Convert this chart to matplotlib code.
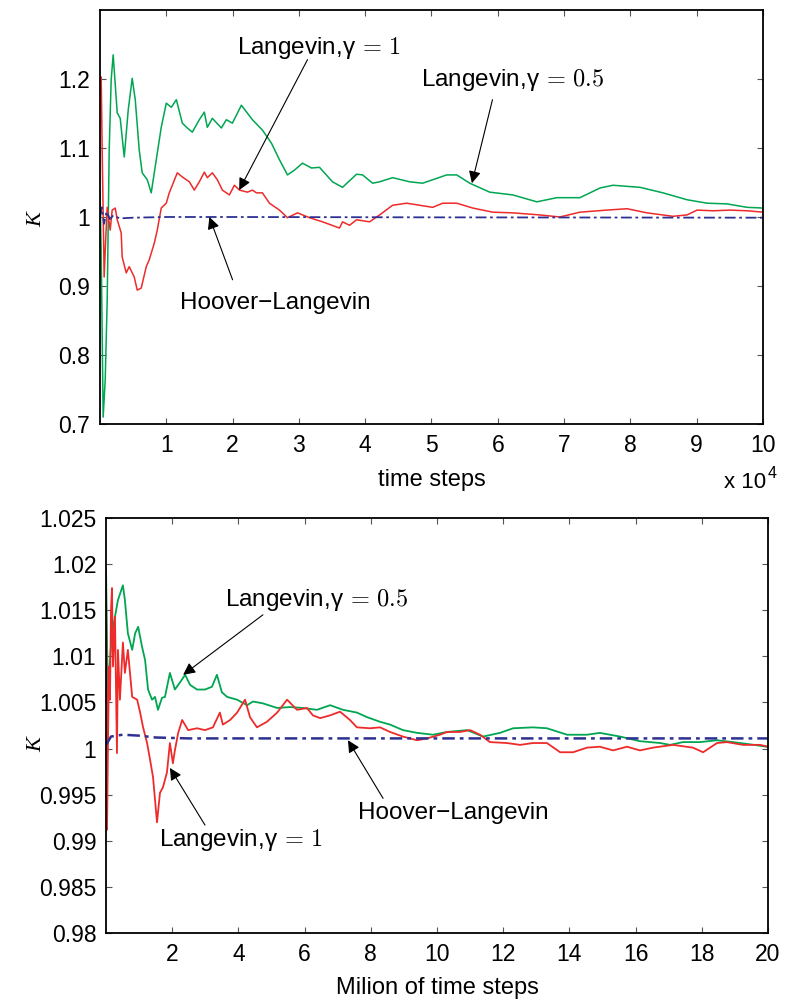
import matplotlib
matplotlib.use('Agg')
import matplotlib.pyplot as plt

plt.rcParams['font.family'] = ['Liberation Sans', 'DejaVu Sans']
plt.rcParams['mathtext.fontset'] = 'cm'

# ---- top panel: K vs time steps (x 1e4)
top_green_x = [0, 0.018, 0.048, 0.079, 0.109, 0.139, 0.169, 0.199, 0.26, 0.305, 0.366, 0.426, 0.486,
               0.532, 0.592, 0.637, 0.713, 0.773, 0.849, 0.924, 1.0, 1.076, 1.152, 1.242, 1.317, 1.393,
               1.498, 1.574, 1.619, 1.695, 1.831, 1.906, 1.997, 2.133, 2.299, 2.45, 2.586, 2.707, 2.828,
               2.934, 3.054, 3.19, 3.311, 3.507, 3.658, 3.87, 3.961, 4.112, 4.218, 4.414, 4.671, 4.867,
               5.018, 5.23, 5.381, 5.577, 5.879, 6.226, 6.589, 6.891, 7.239, 7.541, 7.737, 8.145, 8.492,
               8.855, 9.157, 9.459, 9.761, 10.0]
top_green_y = [1.039, 0.952, 0.71, 0.764, 0.88, 1.097, 1.199, 1.235, 1.151, 1.143, 1.087, 1.155, 1.201,
               1.17, 1.097, 1.064, 1.054, 1.035, 1.083, 1.13, 1.165, 1.159, 1.17, 1.136, 1.129, 1.123,
               1.141, 1.152, 1.13, 1.143, 1.129, 1.141, 1.136, 1.162, 1.141, 1.126, 1.107, 1.083, 1.061,
               1.068, 1.078, 1.071, 1.072, 1.051, 1.043, 1.062, 1.061, 1.049, 1.051, 1.057, 1.051, 1.049,
               1.054, 1.061, 1.061, 1.049, 1.036, 1.032, 1.022, 1.028, 1.028, 1.042, 1.046, 1.043, 1.035,
               1.025, 1.02, 1.019, 1.014, 1.013]

top_red_x = [0, 0.018, 0.033, 0.063, 0.086, 0.109, 0.154, 0.184, 0.23, 0.26, 0.32, 0.335, 0.396, 0.441,
             0.517, 0.562, 0.622, 0.698, 0.743, 0.819, 0.864, 0.924, 1.0, 1.045, 1.091, 1.166, 1.242,
             1.348, 1.423, 1.498, 1.574, 1.619, 1.695, 1.77, 1.846, 1.952, 2.027, 2.103, 2.224, 2.299,
             2.36, 2.45, 2.556, 2.707, 2.828, 2.979, 3.16, 3.356, 3.613, 3.658, 3.764, 3.87, 4.066,
             4.218, 4.414, 4.625, 4.822, 5.018, 5.169, 5.381, 5.622, 5.924, 6.226, 6.634, 6.937, 7.239,
             7.647, 7.949, 8.251, 8.643, 8.855, 9.006, 9.248, 9.505, 9.761, 10.0]
top_red_y = [1.2, 1.203, 1.097, 0.913, 0.967, 1.014, 0.981, 1.01, 1.013, 0.996, 0.977, 0.942, 0.919, 0.928,
             0.913, 0.894, 0.897, 0.928, 0.938, 0.962, 0.981, 1.013, 1.02, 1.035, 1.046, 1.064, 1.058,
             1.051, 1.039, 1.051, 1.065, 1.057, 1.064, 1.054, 1.039, 1.032, 1.046, 1.039, 1.036, 1.039,
             1.035, 1.035, 1.02, 1.01, 0.999, 1.006, 0.999, 0.993, 0.984, 0.993, 0.988, 0.996, 0.993,
             1.003, 1.017, 1.02, 1.017, 1.014, 1.02, 1.02, 1.013, 1.007, 1.006, 1.003, 1.0, 1.007,
             1.01, 1.012, 1.006, 1.001, 1.003, 1.01, 1.009, 1.01, 1.009, 1.007]

top_blue_x = [0, 0.03, 0.06, 0.1, 0.15, 0.2, 0.3, 0.5, 1.0, 2.0, 5.0, 10.0]
top_blue_y = [1.0, 1.014, 0.99, 1.008, 0.997, 1.002, 0.998, 0.999, 1.0, 1.0, 0.9995, 0.999]

# ---- bottom panel: K vs million time steps
bot_green_x = [0, 0.03, 0.06, 0.12, 0.18, 0.27, 0.36, 0.51, 0.57, 0.66, 0.79, 0.88, 0.97, 1.09, 1.18,
               1.27, 1.39, 1.48, 1.57, 1.69, 1.78, 1.93, 2.08, 2.24, 2.39, 2.54, 2.75, 2.99, 3.2, 3.35,
               3.5, 3.66, 3.96, 4.26, 4.44, 4.74, 5.17, 5.56, 5.95, 6.37, 6.77, 7.16, 7.58, 7.89, 8.28,
               8.58, 8.97, 9.4, 9.88, 10.3, 10.91, 11.39, 11.9, 12.3, 12.9, 13.32, 13.93, 14.53, 14.92,
               15.53, 16.13, 16.74, 17.04, 17.43, 17.95, 18.46, 18.94, 19.37, 19.97]
bot_green_y = [1.0194, 1.0118, 1.0053, 1.0096, 1.0125, 1.0143, 1.0161, 1.0177, 1.0161, 1.0125, 1.0107,
               1.0125, 1.0132, 1.011, 1.0096, 1.0064, 1.0053, 1.0056, 1.0042, 1.0055, 1.0056, 1.0082,
               1.0064, 1.0072, 1.008, 1.0069, 1.0064, 1.0064, 1.0067, 1.008, 1.0061, 1.0056, 1.0053,
               1.0047, 1.0051, 1.0049, 1.0044, 1.0045, 1.0044, 1.0042, 1.0047, 1.0042, 1.0039, 1.0034,
               1.0029, 1.0026, 1.002, 1.0017, 1.0015, 1.0018, 1.002, 1.0013, 1.0017, 1.0022, 1.0023,
               1.0022, 1.0015, 1.0015, 1.0017, 1.0013, 1.0008, 1.0006, 1.0004, 1.0007, 1.0007, 1.0009,
               1.0007, 1.0005, 1.0002]

bot_red_x = [0, 0.02, 0.03, 0.06, 0.09, 0.12, 0.15, 0.18, 0.21, 0.27, 0.33, 0.36, 0.42, 0.51, 0.57, 0.66,
             0.79, 0.94, 1.03, 1.12, 1.24, 1.33, 1.42, 1.54, 1.63, 1.72, 1.84, 1.93, 2.02, 2.08, 2.18,
             2.3, 2.48, 2.75, 2.99, 3.23, 3.44, 3.53, 3.75, 3.96, 4.2, 4.35, 4.56, 4.86, 5.17, 5.47,
             5.77, 6.07, 6.25, 6.47, 6.77, 7.07, 7.37, 7.58, 7.98, 8.28, 8.58, 8.97, 9.4, 9.7, 10.09,
             10.3, 10.69, 11.0, 11.3, 11.6, 12.11, 12.51, 12.9, 13.32, 13.72, 14.11, 14.53, 14.92,
             15.32, 15.74, 16.13, 16.53, 17.13, 17.73, 18.04, 18.46, 18.76, 19.24, 19.76, 20.0]
bot_red_y = [1.0175, 1.0053, 0.9912, 1.0009, 1.0089, 1.0053, 1.015, 1.0174, 1.0089, 1.0143, 0.9995,
             1.0107, 1.0053, 1.0115, 1.0082, 1.0107, 1.0056, 1.0053, 1.0039, 1.0023, 1.0006, 0.9988,
             0.9969, 0.992, 0.9952, 0.9958, 0.9974, 1.0006, 0.9984, 0.9998, 1.0017, 1.0031, 1.002,
             1.0022, 1.002, 1.0023, 1.0039, 1.0026, 1.0031, 1.0039, 1.0053, 1.0034, 1.0023, 1.0029,
             1.0039, 1.0053, 1.0042, 1.0044, 1.0036, 1.0033, 1.0036, 1.004, 1.0031, 1.0023, 1.0022,
             1.0023, 1.0018, 1.0013, 1.0009, 1.0011, 1.0015, 1.0018, 1.0018, 1.002, 1.0015, 1.0007,
             1.0006, 1.0004, 1.0006, 1.0006, 0.9996, 0.9996, 1.0001, 1.0002, 0.9998, 1.0002, 0.9998,
             1.0001, 1.0004, 1.0001, 0.9996, 1.0006, 1.0007, 1.0004, 1.0004, 1.0002]

bot_blue_x = [0, 0.15, 0.5, 1.0, 1.5, 2.5, 5.0, 10.0, 20.0]
bot_blue_y = [1.0004, 1.0013, 1.0015, 1.0014, 1.0012, 1.0011, 1.0011, 1.0011, 1.0011]

top_yticks = [0.7, 0.8, 0.9, 1.0, 1.1, 1.2]
top_yticklabels = ['0.7', '0.8', '0.9', '1', '1.1', '1.2']
bot_yticks = [0.98, 0.985, 0.99, 0.995, 1.0, 1.005, 1.01, 1.015, 1.02, 1.025]
bot_yticklabels = ['0.98', '0.985', '0.99', '0.995', '1', '1.005', '1.01', '1.015', '1.02', '1.025']

GREEN = '#00a651'
RED = '#ee2b2b'
BLUE = '#2e3192'

lab05 = r'Langevin,γ$\,=\,0.5$'
lab1 = r'Langevin,γ$\,=\,1$'
labHL = 'Hoover\u2212Langevin'
FS_ANN = 17.5

fig = plt.figure(figsize=(7.86, 10), dpi=100)
ax1 = fig.add_axes([0.1272, 0.576, 0.8435, 0.414])
ax2 = fig.add_axes([0.1349, 0.067, 0.8422, 0.415])


def style(ax):
    ax.tick_params(direction='in', top=True, right=True, length=4, width=0.8,
                   color='#555555', labelsize=16.5, pad=7)
    for s in ax.spines.values():
        s.set_linewidth(1.3)


def arrow(ax, head, tail):
    ax.annotate('', xy=head, xytext=tail,
                arrowprops=dict(arrowstyle='-|>', color='black', lw=0.8,
                                mutation_scale=18, shrinkA=0, shrinkB=0))


ax1.plot(top_green_x, top_green_y, color=GREEN, lw=1.1)
ax1.plot(top_red_x, top_red_y, color=RED, lw=1.1)
ax1.plot(top_blue_x, top_blue_y, color=BLUE, lw=1.3, ls=(0, (6, 2, 1.5, 2)))
ax1.set_xlim(0, 10)
ax1.set_ylim(0.7, 1.3)
ax1.set_xticks(range(1, 11))
ax1.set_yticks(top_yticks)
ax1.set_yticklabels(top_yticklabels)
style(ax1)
ax1.set_xlabel('time steps', fontsize=17, labelpad=9)

ax1.text(3.30, 1.245, lab1, fontsize=FS_ANN, ha='center', va='center')
arrow(ax1, (2.10, 1.039), (3.13, 1.228))
ax1.text(6.23, 1.199, lab05, fontsize=FS_ANN, ha='center', va='center')
arrow(ax1, (5.61, 1.049), (5.92, 1.170))
ax1.text(2.65, 0.875, labHL, fontsize=FS_ANN, ha='center', va='center')
arrow(ax1, (1.65, 1.0), (2.0, 0.909))

ax2.plot(bot_green_x, bot_green_y, color=GREEN, lw=1.3)
ax2.plot(bot_red_x, bot_red_y, color=RED, lw=1.3)
ax2.plot(bot_blue_x, bot_blue_y, color=BLUE, lw=1.8, ls=(0, (5, 2, 1.5, 2)))
ax2.set_xlim(0, 20)
ax2.set_ylim(0.98, 1.025)
ax2.set_xticks(range(2, 21, 2))
ax2.set_yticks(bot_yticks)
ax2.set_yticklabels(bot_yticklabels)
style(ax2)
ax2.set_xlabel('Milion of time steps', fontsize=17, labelpad=8)

ax2.text(6.37, 1.0161, lab05, fontsize=FS_ANN, ha='center', va='center')
arrow(ax2, (2.33, 1.0080), (4.74, 1.0145))
ax2.text(4.08, 0.9901, lab1, fontsize=FS_ANN, ha='center', va='center')
arrow(ax2, (1.93, 0.9979), (2.99, 0.9917))
ax2.text(10.48, 0.9930, labHL, fontsize=FS_ANN, ha='center', va='center')
arrow(ax2, (7.31, 1.0009), (8.37, 0.9946))

for yk in (0.78, 0.255):
    fig.text(0.047, yk, 'K', rotation=90, fontsize=16, style='italic',
             family=['Liberation Serif', 'DejaVu Serif'], ha='center', va='center')

fig.text(0.975, 0.517, 'x 10', fontsize=16, ha='right', va='center')
fig.text(0.976, 0.527, '4', fontsize=11.5, ha='left', va='center')

fig.savefig('out.png', dpi=100)
